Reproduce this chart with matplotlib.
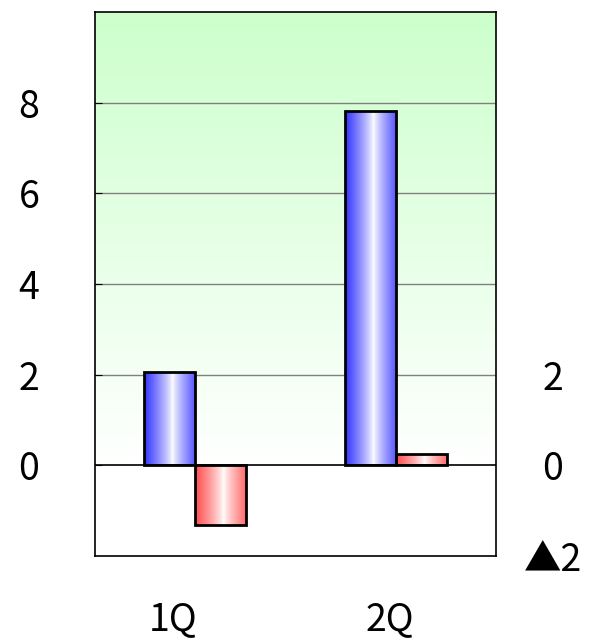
import numpy as np
import matplotlib.pyplot as plt
import matplotlib.transforms as mtransforms
from matplotlib.patches import Rectangle

plt.rcParams["font.family"] = ["Noto Sans CJK JP", "DejaVu Sans"]

# ── Daten ────────────────────────────────────────────────────────────────────
categories = ["1Q", "2Q"]
series_blue = [2.05, 7.82]
series_red = [-1.32, 0.25]
left_ticks = [0, 2, 4, 6, 8]
right_ticks = [2, 0, -2]
right_labels = ["2", "0", "▲2"]

fig = plt.figure(figsize=(5.94, 6.43), dpi=100)
ax = fig.add_axes([95 / 594, 1 - 556 / 643, 401 / 594, 544 / 643])
ax.set_xlim(0, 2)
ax.set_ylim(-2, 10)

# ── Hintergrund-Verlauf (grün oben -> weiß bei 0) ────────────────────────────
t = np.linspace(0, 1, 256)[:, None]
top = np.array([0.80, 1.0, 0.80])
bg = 1 - (1 - top) * np.clip(t, 0, 1)[..., None]
bg = np.repeat(bg, 2, axis=1)
ax.imshow(bg, extent=(0, 2, 0, 10), origin="lower", aspect="auto", zorder=0)

# ── Gitter ───────────────────────────────────────────────────────────────────
for v in left_ticks[1:]:
    ax.axhline(v, color="#808080", lw=1, zorder=1)
ax.axhline(0, color="black", lw=1.2, zorder=4)


def grad_bar(x0, w, h, rgb):
    s = np.linspace(0, 1, 200)
    # Sättigung: links stark, Mitte weiß, rechts mittel
    k = np.where(s < 0.55, (0.55 - s) / 0.55, (s - 0.55) / 0.45 * 0.8)
    k = np.clip(k, 0, 1) ** 0.8
    img = 1 - (1 - np.array(rgb))[None, :] * k[:, None]
    img = img[None, :, :]
    y0, y1 = (0, h) if h >= 0 else (h, 0)
    im = ax.imshow(img, extent=(x0, x0 + w, y0, y1), aspect="auto", zorder=2)
    r = Rectangle((x0, y0), w, y1 - y0, fill=False, ec="black", lw=2, zorder=3)
    ax.add_patch(r)
    im.set_clip_path(r)


width = 0.255
for i in range(len(categories)):
    c = i + 0.5
    grad_bar(c - width, width, series_blue[i], (0.2, 0.2, 1.0))
    grad_bar(c, width, series_red[i], (1.0, 0.3, 0.3))

ax.set_xlim(0, 2)
ax.set_ylim(-2, 10)

ax.set_yticks(left_ticks)
ax.set_yticklabels([str(v) for v in left_ticks], fontsize=27)
ax.tick_params(axis="y", direction="in", length=5, pad=40)
ax.set_xticks([0.5, 1.5])
ax.set_xticklabels(categories, fontsize=27)
ax.tick_params(axis="x", length=0, pad=32)
for lab, dx in zip(ax.get_xticklabels(), [-22, -6]):
    lab.set_transform(lab.get_transform() +
                      mtransforms.ScaledTranslation(dx / 100, 0, fig.dpi_scale_trans))
for s in ax.spines.values():
    s.set_color("black")
    s.set_linewidth(1.2)

ax2 = ax.twinx()
ax2.set_ylim(-2, 10)
ax2.set_yticks(right_ticks)
ax2.set_yticklabels(right_labels, fontsize=27)
for lab in ax2.get_yticklabels():
    lab.set_horizontalalignment("center")
ax2.tick_params(axis="y", length=0, pad=41)
for s in ax2.spines.values():
    s.set_visible(False)

fig.savefig("out.png", dpi=100)
